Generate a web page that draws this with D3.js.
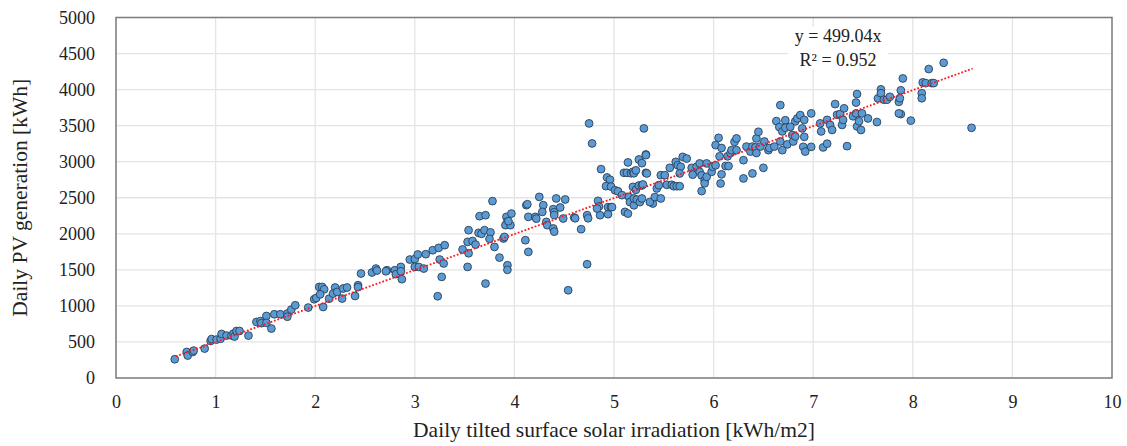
<!DOCTYPE html>
<html>
<head>
<meta charset="utf-8">
<script src="https://cdn.jsdelivr.net/npm/d3@7"></script>
<style>
  body { margin: 0; background: #fff; }
  svg text { font-family: "Liberation Serif", "Times New Roman", serif; fill: #222; }
</style>
</head>
<body>
<script>
const xTicks = [0, 1, 2, 3, 4, 5, 6, 7, 8, 9, 10]
const yTicks = [0, 500, 1000, 1500, 2000, 2500, 3000, 3500, 4000, 4500, 5000]
const slope = 499.04
const trendRange = [0.6, 8.6]
const eqLines = ["y = 499.04x", "R\u00b2 = 0.952"]

// [irradiation kWh/m2, PV generation kWh]
const pvDays = [
  [0.59,260],[0.71,361],[0.72,311],[0.77,361],[0.78,380],[0.89,408],[0.95,514],[0.96,540],[1.01,533],[1.05,545],
  [1.06,611],[1.11,588],[1.16,590],[1.18,616],[1.19,575],[1.21,652],[1.24,652],[1.33,588],[1.41,777],[1.45,790],
  [1.46,760],[1.51,860],[1.51,765],[1.56,686],[1.59,884],[1.65,884],[1.72,894],[1.72,850],[1.76,949],[1.80,1009],
  [1.93,977],[1.99,1092],[2.01,1110],[2.04,1263],[2.07,1263],[2.09,1230],[2.05,1160],[2.08,985],[2.14,1100],[2.20,1255],
  [2.18,1171],[2.22,1194],[2.27,1102],[2.28,1241],[2.32,1255],[2.40,1138],[2.43,1287],[2.43,1260],[2.46,1449],[2.57,1463],
  [2.61,1518],[2.62,1490],[2.72,1495],[2.71,1480],[2.80,1495],[2.81,1440],[2.86,1541],[2.86,1480],[2.87,1370],[2.95,1643],
  [3.00,1650],[3.03,1713],[3.00,1541],[3.04,1540],[3.09,1518],[3.11,1717],[3.18,1772],[3.24,1805],[3.25,1643],[3.29,1588],
  [3.30,1842],[3.27,1402],[3.23,1134],[3.48,1782],[3.53,1541],[3.54,1730],[3.53,1888],[3.54,2050],[3.58,1900],[3.61,1850],
  [3.65,2244],[3.64,2013],[3.67,2000],[3.71,2258],[3.70,2050],[3.76,2020],[3.75,1930],[3.78,2453],[3.80,1818],[3.71,1310],
  [3.85,1670],[3.89,1935],[3.92,2235],[3.93,2170],[3.93,1564],[3.93,1500],
  [3.90,1957],[3.91,2120],[3.97,2281],[3.96,2120],[3.94,2175],[4.11,1911],[4.14,1749],[4.12,2397],[4.13,2410],[4.14,2235],
  [4.21,2235],[4.22,2210],[4.25,2512],[4.29,2397],[4.28,2304],[4.32,2165],[4.33,2120],[4.39,2342],[4.40,2300],[4.40,2260],
  [4.39,2074],[4.40,2030],[4.42,2490],[4.46,2365],[4.49,2212],[4.51,2476],[4.60,2226],[4.61,2215],[4.67,2064],[4.54,1217],
  [4.73,1578],[4.73,2258],[4.74,2215],[4.75,3531],[4.78,3253],[4.84,2457],[4.85,2380],[4.86,2258],[4.83,2350],[4.94,2272],
  [4.94,2370],[4.97,2370],[4.98,2370],[4.87,2897],[4.93,2781],[4.96,2750],[4.92,2661],[4.97,2655],[5.01,2605],[5.04,2590],
  [5.08,2536],[5.10,2846],[5.14,2990],[5.13,2846],[5.17,2840],[5.19,2860],[5.20,2840],[5.22,2880],[5.25,3031],[5.28,2980],
  [5.30,3462],[5.32,3100],[5.32,2846],[5.19,2651],[5.22,2610],[5.25,2670],[5.28,2670],[5.15,2512],[5.16,2440],[5.11,2304],
  [5.14,2280],[5.20,2395],[5.20,2490],[5.23,2475],[5.26,2440],[5.28,2490],
  [5.32,3091],[5.33,2837],[5.29,2684],[5.39,2420],[5.36,2440],[5.41,2510],[5.43,2629],[5.45,2675],[5.47,2813],[5.51,2813],
  [5.47,2490],[5.53,2680],[5.56,2915],[5.58,2680],[5.60,2660],[5.63,2660],[5.66,2660],[5.62,2998],[5.64,2950],[5.67,2930],
  [5.69,3067],[5.73,3044],[5.66,2837],[5.78,2915],[5.79,2820],[5.83,2930],[5.86,2976],[5.86,2860],[5.88,2810],[5.88,2592],
  [5.91,2740],[5.91,2700],[5.93,2976],[5.93,2790],[5.98,2860],[5.99,2930],[6.02,2950],[6.02,3230],[6.05,3331],[6.08,3190],
  [6.06,3075],[6.08,2825],[6.07,2698],[6.12,2940],[6.15,2940],[6.14,3075],[6.17,3120],[6.18,3160],[6.21,3275],[6.23,3323],
  [6.23,3160],[6.30,3021],[6.30,2768],[6.33,3210],[6.37,3140],[6.39,2837],[6.39,3210],[6.43,3323],[6.42,3200],[6.45,3415],
  [6.43,3120],[6.47,3210],[6.50,2915],[6.51,3280],[6.55,3160],[6.56,3190],[6.61,3210],[6.63,3563],[6.66,3480],[6.67,3785],
  [6.67,3280],[6.69,3420],[6.72,3575],[6.72,3470],[6.74,3240],[6.69,3160],[6.79,3370],[6.80,3280],[6.82,3560],[6.84,3600],
  [6.77,3484],[6.87,3646],[6.91,3580],[6.89,3462],[6.91,3345],[6.82,3350],[6.90,3206],[6.92,3140],[6.98,3670],[6.98,3206],
  [7.07,3531],[7.08,3420],[7.10,3198],[7.14,3580],[7.14,3250],[7.17,3510],[7.19,3440],[7.22,3799],[7.24,3650],[7.27,3660],
  [7.29,3510],[7.30,3580],[7.31,3740],[7.34,3216],[7.40,3630],[7.43,3820],[7.43,3670],[7.44,3938],[7.44,3490],[7.46,3560],
  [7.48,3440],[7.49,3670],[7.55,3600],[7.64,3550],[7.65,3878],[7.68,4003],[7.68,3950],[7.71,3860],[7.74,3860],[7.77,3900],
  [7.86,3830],[7.87,3880],[7.88,3660],[7.86,3670],[7.88,3990],[7.90,4155],[7.98,3570],[8.09,3950],[8.09,3880],[8.10,4100],
  [8.13,4090],[8.16,4285],[8.19,4090],[8.21,4090],[8.31,4372],[8.59,3470]
]

const W = 1127, H = 446
const margin = {top: 17.5, right: 15, bottom: 68, left: 116}
const w = W - margin.left - margin.right
const h = H - margin.top - margin.bottom
const serif = "'Liberation Serif', 'Times New Roman', serif"

const svg = d3.select("body").append("svg")
  .attr("width", W)
  .attr("height", H)

const g = svg.append("g")
  .attr("transform", `translate(${margin.left},${margin.top})`)

const x = d3.scaleLinear().domain([0, 10]).range([0, w])
const y = d3.scaleLinear().domain([0, 5000]).range([h, 0])

// grid
g.append("g").selectAll("line")
  .data(xTicks.slice(1, -1))
  .join("line")
  .attr("x1", d => x(d)).attr("x2", d => x(d))
  .attr("y1", 0).attr("y2", h)
  .attr("stroke", "#e4e4e4").attr("stroke-width", 1.3)

g.append("g").selectAll("line")
  .data(yTicks.slice(1, -1))
  .join("line")
  .attr("x1", 0).attr("x2", w)
  .attr("y1", d => y(d)).attr("y2", d => y(d))
  .attr("stroke", "#e4e4e4").attr("stroke-width", 1.3)

// axes (labels only)
const xAxis = g.append("g")
  .attr("transform", `translate(0,${h})`)
  .call(d3.axisBottom(x).tickValues(xTicks).tickFormat(d3.format("d")).tickSize(0).tickPadding(17))
const yAxis = g.append("g")
  .call(d3.axisLeft(y).tickValues(yTicks).tickFormat(d3.format("d")).tickSize(0).tickPadding(21))
;[xAxis, yAxis].forEach(a => {
  a.attr("font-family", serif).attr("font-size", 18)
  a.select(".domain").remove()
  a.selectAll("text").attr("fill", "#222")
})

// equation label box
const eqX = x(7.25), eqY = y(4660)
g.append("rect")
  .attr("x", eqX - 50).attr("y", eqY - 15)
  .attr("width", 100).attr("height", 42)
  .attr("fill", "#fff")

g.append("text")
  .attr("x", eqX).attr("y", eqY)
  .attr("text-anchor", "middle")
  .attr("font-size", 18)
  .selectAll("tspan")
  .data(eqLines)
  .join("tspan")
  .attr("x", eqX)
  .attr("dy", (d, i) => i === 0 ? 0 : 23.5)
  .text(d => d)

// points
g.append("g").selectAll("circle")
  .data(pvDays)
  .join("circle")
  .attr("cx", d => x(d[0]))
  .attr("cy", d => y(d[1]))
  .attr("r", 3.9)
  .attr("fill", "#5b9bd5")
  .attr("stroke", "#2b3f57")
  .attr("stroke-width", 0.9)

// trend line
g.append("line")
  .attr("x1", x(trendRange[0])).attr("y1", y(slope * trendRange[0]))
  .attr("x2", x(trendRange[1])).attr("y2", y(slope * trendRange[1]))
  .attr("stroke", "#ff1a1a")
  .attr("stroke-width", 1.8)
  .attr("stroke-dasharray", "1.8 1.8")

// frame
g.append("rect")
  .attr("width", w).attr("height", h)
  .attr("fill", "none")
  .attr("stroke", "#7a7a7a")
  .attr("stroke-width", 1.5)

// axis titles
svg.append("text")
  .attr("x", margin.left + w / 2)
  .attr("y", 437)
  .attr("text-anchor", "middle")
  .attr("font-size", 21.5)
  .text("Daily tilted surface solar irradiation [kWh/m2]")

svg.append("text")
  .attr("transform", `translate(27,${margin.top + h / 2}) rotate(-90)`)
  .attr("text-anchor", "middle")
  .attr("font-size", 21.5)
  .text("Daily PV generation [kWh]")
</script>
</body>
</html>
